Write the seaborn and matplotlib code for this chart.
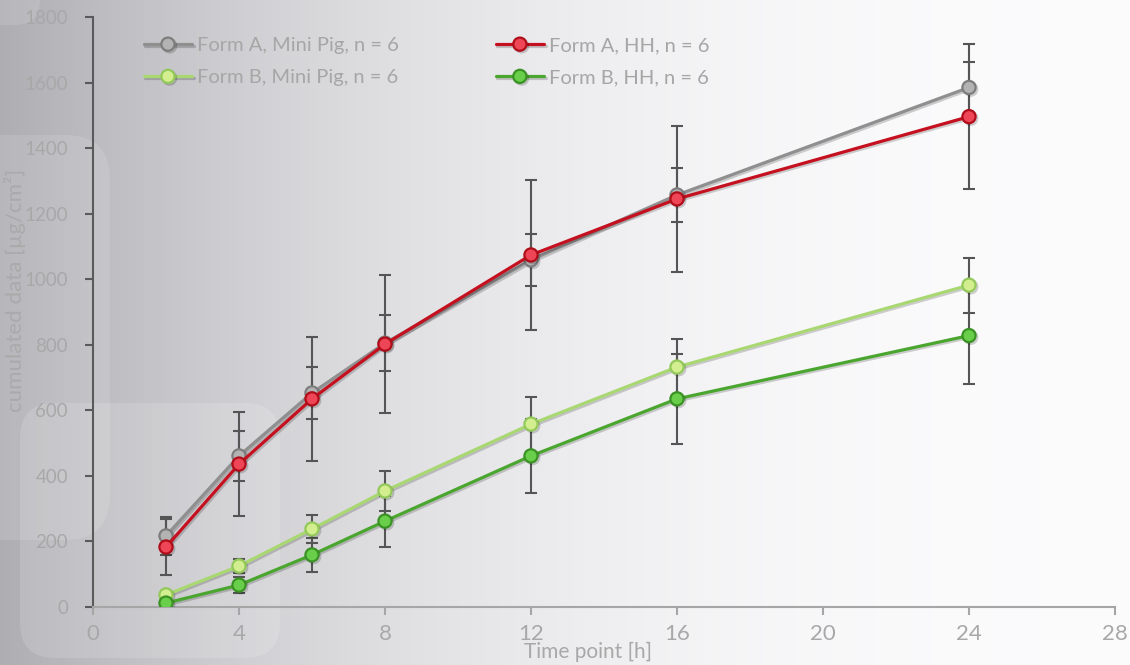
import numpy as np
import pandas as pd
import matplotlib
matplotlib.use("Agg")
import matplotlib.pyplot as plt
import matplotlib.patheffects as pe
from matplotlib.patches import FancyBboxPatch
import seaborn as sns

# Sampling times [h]
time_h = [2, 4, 6, 8, 12, 16, 24]

# Cumulated permeation means and standard deviations [µg/cm²]
form_a_mini = [217, 461, 653, 805, 1059, 1257, 1585]
form_a_mini_sd = [58, 76, 78, 85, 80, 82, 79]
form_a_hh = [183, 436, 635, 802, 1074, 1245, 1496]
form_a_hh_sd = [85, 158, 190, 210, 228, 222, 222]
form_b_mini = [37, 125, 238, 354, 558, 732, 982]
form_b_mini_sd = [10, 20, 43, 60, 84, 86, 84]
form_b_hh = [12, 67, 159, 262, 461, 635, 828]
form_b_hh_sd = [8, 25, 53, 78, 113, 138, 148]

series_labels = ["Form A, Mini Pig, n = 6", "Form B, Mini Pig, n = 6",
                 "Form A, HH, n = 6", "Form B, HH, n = 6"]
x_ticks = [0, 4, 8, 12, 16, 20, 24, 28]
y_ticks = [0, 200, 400, 600, 800, 1000, 1200, 1400, 1600, 1800]

sns.set_theme(style="white")
plt.rcParams["font.family"] = ["Lato", "DejaVu Sans"]

fig = plt.figure(figsize=(11.3, 6.65), dpi=100)

# Backdrop: horizontal grey-to-white ramp with soft rounded panels
bg = fig.add_axes([0, 0, 1, 1], zorder=-10)
bg.set_xlim(0, 1130)
bg.set_ylim(665, 0)
bg.axis("off")
xs = np.linspace(0, 1, 600)
ramp = 1 - (1 - xs) ** 2.4
lo = np.array([0.68, 0.68, 0.70])
hi = np.array([0.985, 0.985, 0.99])
grad = lo[None, :] + (hi - lo)[None, :] * ramp[:, None]
bg.imshow(grad[None, :, :], extent=[0, 1130, 665, 0], aspect="auto", zorder=0)
bg.add_patch(FancyBboxPatch((-60, -60), 100, 85, boxstyle="round,pad=0,rounding_size=25",
                            fc="white", ec="none", alpha=0.12, zorder=1))
bg.add_patch(FancyBboxPatch((-60, 135), 170, 405, boxstyle="round,pad=0,rounding_size=45",
                            fc="white", ec="none", alpha=0.12, zorder=1))
bg.add_patch(FancyBboxPatch((20, 403), 260, 255, boxstyle="round,pad=0,rounding_size=35",
                            fc="white", ec="none", alpha=0.14, zorder=1))

ax = fig.add_axes([93 / 1130, 58 / 665, 1022 / 1130, 590 / 665])
ax.set_facecolor("none")

styles = [
    (form_a_mini, form_a_mini_sd, "#8f8f8f", "#b3b3b3", "#7d7d7d"),
    (form_b_mini, form_b_mini_sd, "#a9d873", "#d2ee8e", "#93c85a"),
    (form_a_hh, form_a_hh_sd, "#c4101f", "#ee4656", "#b00d1a"),
    (form_b_hh, form_b_hh_sd, "#4ba62f", "#69cf4a", "#3a9224"),
]

shadow = [pe.SimpleLineShadow(offset=(1.2, -1.2), shadow_color="black", alpha=0.18), pe.Normal()]

for (vals, sd, lc, mfc, mec), lab in zip(styles, series_labels):
    ax.errorbar(time_h, vals, yerr=sd, fmt="none", ecolor="#555555",
                elinewidth=1.5, capsize=4, capthick=1.5, zorder=2)

for (vals, sd, lc, mfc, mec), lab in zip(styles, series_labels):
    df = pd.DataFrame({"t": time_h, "v": vals})
    sns.lineplot(data=df, x="t", y="v", ax=ax, color=lc, linewidth=2.3,
                 marker="o", markersize=9.5, markerfacecolor=mfc,
                 markeredgecolor=mec, markeredgewidth=1.6, label=lab,
                 path_effects=shadow, zorder=3)

ax.set_xlim(0, 28)
ax.set_ylim(0, 1800)
ax.set_xticks(x_ticks)
ax.set_yticks(y_ticks)

for s in ["top", "right"]:
    ax.spines[s].set_visible(False)
ax.spines["left"].set_color("#5a5a5a")
ax.spines["left"].set_linewidth(1.5)
ax.spines["bottom"].set_color("#a6a6a6")
ax.spines["bottom"].set_linewidth(1.5)
ax.tick_params(axis="y", direction="out", length=6, width=1.5, color="#5a5a5a",
               labelcolor="#a8a8a8", labelsize=13.5, pad=12)
ax.tick_params(axis="x", direction="out", length=6, width=1.5, color="#a6a6a6",
               labelcolor="#a8a8a8", labelsize=16, pad=6)
ax.tick_params(left=True, bottom=True)

ax.set_xlabel("Time point [h]", color="#a8a8a8", fontsize=15)
ax.xaxis.set_label_coords(0.484, -0.059)
ax.set_ylabel("cumulated data [µg/cm²]", color="#aaaaaa", fontsize=16)
ax.yaxis.set_label_coords(-0.066, 0.537)

leg = ax.legend(ncol=2, loc="upper left", bbox_to_anchor=(0.03, 1.0), frameon=False,
                fontsize=14.5, handlelength=2.4, handletextpad=0.25, columnspacing=4.8,
                labelspacing=0.75, borderaxespad=0.6)
for t in leg.get_texts():
    t.set_color("#a6a6a6")

fig.savefig("out.png", dpi=100)
